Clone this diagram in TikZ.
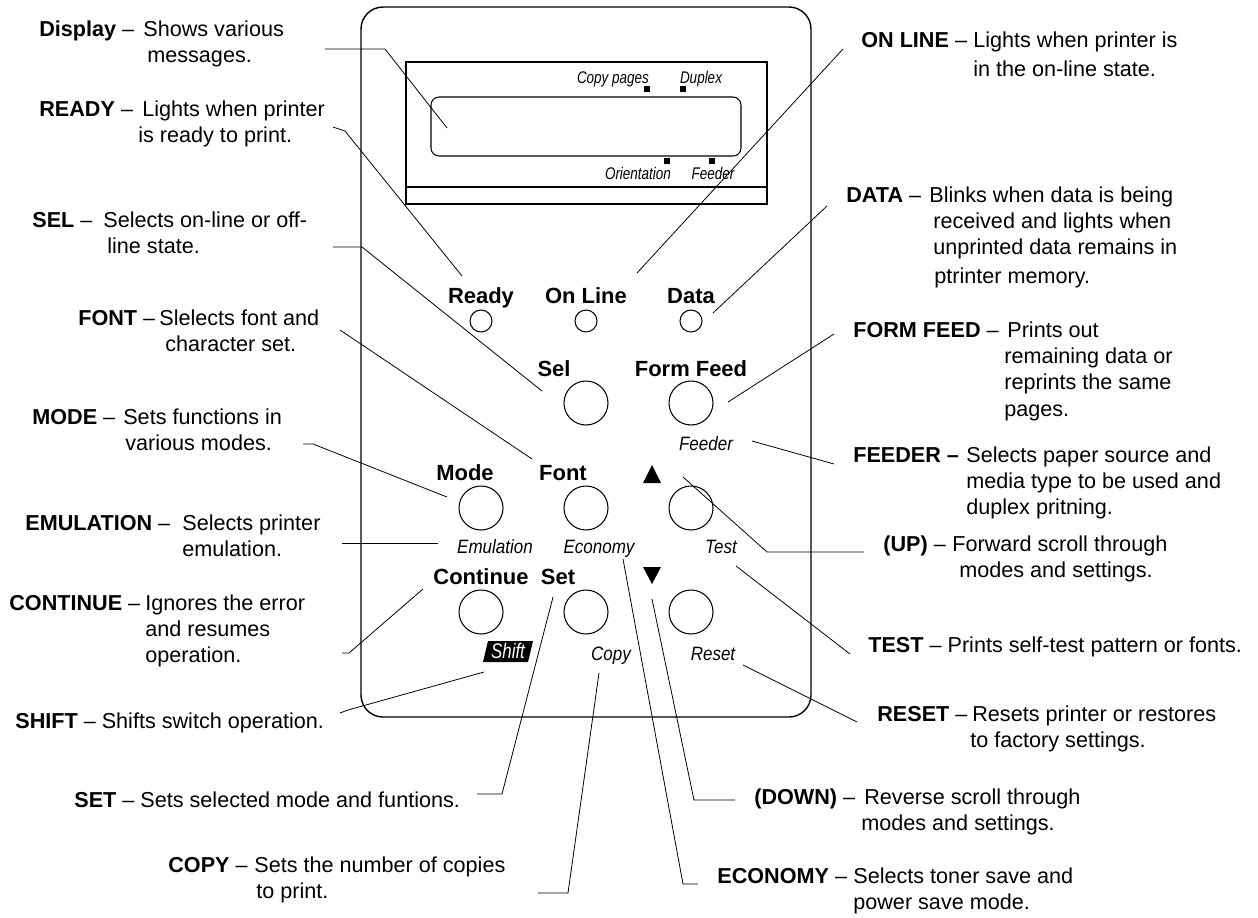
\documentclass[tikz,border=0pt]{standalone}
\usepackage{fontspec}
\setmainfont{Liberation Sans}
\newfontfamily\panelit[FakeStretch=0.88]{Liberation Sans}
\newfontfamily\dispit[FakeStretch=0.8]{Liberation Sans}
\newlength\pxu \setlength\pxu{0.02cm}
\tikzset{
  lbl/.style={anchor=base west, inner sep=0pt, font=\fontsize{12.3}{15}\selectfont},
  pbold/.style={anchor=base, inner sep=0pt, font=\fontsize{12.5}{15}\selectfont\bfseries},
  pit/.style={anchor=base, inner sep=0pt, font=\panelit\itshape\fontsize{11}{13}\selectfont},
  dit/.style={anchor=base, inner sep=0pt, font=\dispit\itshape\fontsize{9.6}{11}\selectfont},
  led/.style={circle, draw, line width=0.6pt, minimum size=0.44cm, inner sep=0pt},
  btn/.style={circle, draw, line width=0.6pt, minimum size=0.88cm, inner sep=0pt},
  leader/.style={line width=0.45pt},
  frame/.style={line width=0.8pt}
}
\begin{document}
\begin{tikzpicture}[x=0.02cm, y=-0.02cm]
\fill[white] (0,0) rectangle (1258,917);
\useasboundingbox (0,0) rectangle (1258,917);

% ---------------- panel ----------------
\draw[frame, rounded corners=0.44cm] (361,7) rectangle (811,717);
\draw[frame] (406,62) rectangle (767,204);
\draw[frame] (406,187) -- (767,187);
\draw[line width=0.6pt, rounded corners=0.16cm] (431,97) rectangle (741,156);
\fill (644,86) rectangle (650,92);
\fill (680,86) rectangle (686,92);
\fill (664,158) rectangle (670,164);
\fill (709,158) rectangle (715,164);
\node[dit] (tcopyp) at (613,83) {Copy pages};
\node[dit] (tduplex) at (701,83) {Duplex};
\node[dit] (torient) at (638,179) {Orientation};
\node[dit] (tfeedd) at (713,179) {Feeder};

% LEDs
\node[pbold] (tready) at (481,303) {Ready};
\node[pbold] (tonline) at (586,303) {On Line};
\node[pbold] (tdata) at (691,303) {Data};
\node[led] (ledready) at (481,321) {};
\node[led] (ledonline) at (586,321) {};
\node[led] (leddata) at (691,321) {};

% buttons row 1
\node[pbold] (tsel) at (554,376) {Sel};
\node[pbold] (tformfeed) at (691,376) {Form Feed};
\node[btn] (bsel) at (586,403) {};
\node[btn] (bformfeed) at (691,403) {};
\node[pit] (tfeeder) at (706,450) {Feeder};

% row 2
\node[pbold] (tmode) at (465,480) {Mode};
\node[pbold] (tfont) at (563,480) {Font};
\fill (652,465) -- (661,483) -- (643,483) -- cycle;
\node[btn] (bmode) at (481,508) {};
\node[btn] (bfont) at (586,508) {};
\node[btn] (bup) at (691,508) {};
\node[pit] (temul) at (495,553) {Emulation};
\node[pit] (tecon) at (599,553) {Economy};
\node[pit] (ttest) at (721,553) {Test};

% row 3
\node[pbold] (tcont) at (481,584) {Continue};
\node[pbold] (tset) at (558,584) {Set};
\fill (643,567) -- (661,567) -- (652,584) -- cycle;
\node[btn] (bcont) at (481,612) {};
\node[btn] (bset) at (586,612) {};
\node[btn] (bdown) at (691,612) {};
\fill (488,641) -- (533,641) -- (528,662) -- (483,662) -- cycle;
\node[dit, font=\dispit\itshape\fontsize{12}{14}\selectfont, text=white] (tshift) at (508,658) {Shift};
\node[pit] (tcopy) at (611,660) {Copy};
\node[pit] (treset) at (713,660) {Reset};

% ---------------- labels ----------------
\node[lbl] (ldisplay) at (39,36) {\begin{tabular}[t]{@{}l@{}l@{}}\makebox[104\pxu][l]{\textbf{Display} –}&Shows various\\&\hspace{4\pxu}messages.\end{tabular}};
\node[lbl] (lready) at (39,116) {\begin{tabular}[t]{@{}l@{}l@{}}\makebox[103\pxu][l]{\textbf{READY} –}&Lights when printer\\&\hspace{-4\pxu}is ready to print.\end{tabular}};
\node[lbl] (lsel) at (32,227) {\begin{tabular}[t]{@{}l@{}l@{}}\makebox[71\pxu][l]{\textbf{SEL} –}&Selects on-line or off-\\&\hspace{4\pxu}line state.\end{tabular}};
\node[lbl] (lfont) at (78,325) {\begin{tabular}[t]{@{}l@{}l@{}}\makebox[81\pxu][l]{\textbf{FONT} –}&Slelects font and\\&\hspace{6\pxu}character set.\end{tabular}};
\node[lbl] (lmode) at (32,424) {\begin{tabular}[t]{@{}l@{}l@{}}\makebox[91\pxu][l]{\textbf{MODE} –}&Sets functions in\\&\hspace{2\pxu}various modes.\end{tabular}};
\node[lbl] (lemul) at (25,530) {\begin{tabular}[t]{@{}l@{}l@{}}\makebox[157\pxu][l]{\textbf{EMULATION} –}&Selects printer\\&emulation.\end{tabular}};
\node[lbl] (lcont) at (9,610) {\begin{tabular}[t]{@{}l@{}l@{}}\makebox[136\pxu][l]{\textbf{CONTINUE} –}&Ignores the error\\&and resumes\\&operation.\end{tabular}};
\node[lbl] (lshift) at (15,728) {\textbf{SHIFT} – Shifts switch operation.};
\node[lbl] (lset) at (74,807) {\textbf{SET} – Sets selected mode and funtions.};
\node[lbl] (lcopy) at (168,872) {\begin{tabular}[t]{@{}l@{}l@{}}\makebox[86\pxu][l]{\textbf{COPY} –}&Sets the number of copies\\&\hspace{2\pxu}to print.\end{tabular}};

\node[lbl] (lonline) at (861,47) {\begin{tabular}[t]{@{}l@{}l@{}}\makebox[112\pxu][l]{\textbf{ON LINE} –}&Lights when printer is\\[1.7pt]&in the on-line state.\end{tabular}};
\node[lbl] (ldata) at (846,202) {\begin{tabular}[t]{@{}l@{}l@{}}\makebox[83\pxu][l]{\textbf{DATA} –}&Blinks when data is being\\&\hspace{4\pxu}received and lights when\\&\hspace{4\pxu}unprinted data remains in\\[1.5pt]&\hspace{5\pxu}ptrinter memory.\end{tabular}};
\node[lbl] (lformfeed) at (853,337) {\begin{tabular}[t]{@{}l@{}l@{}}\makebox[154\pxu][l]{\textbf{FORM FEED} –}&Prints out\\&\hspace{-3\pxu}remaining data or\\&\hspace{-3\pxu}reprints the same\\&\hspace{-3\pxu}pages.\end{tabular}};
\node[lbl] (lfeeder) at (853,462) {\begin{tabular}[t]{@{}l@{}l@{}}\makebox[113\pxu][l]{\textbf{FEEDER –}}&Selects paper source and\\&media type to be used and\\&duplex pritning.\end{tabular}};
\node[lbl] (lup) at (883,551) {\begin{tabular}[t]{@{}l@{}l@{}}\makebox[69\pxu][l]{\textbf{(UP)} –}&Forward scroll through\\&\hspace{7\pxu}modes and settings.\end{tabular}};
\node[lbl] (ltest) at (868,652) {\textbf{TEST} – Prints self-test pattern or fonts.};
\node[lbl] (lreset) at (877,721) {\begin{tabular}[t]{@{}l@{}l@{}}\makebox[95\pxu][l]{\textbf{RESET} –}&Resets printer or restores\\&\hspace{-2\pxu}to factory settings.\end{tabular}};
\node[lbl] (ldown) at (754,804) {\begin{tabular}[t]{@{}l@{}l@{}}\makebox[110\pxu][l]{\textbf{(DOWN)} –}&Reverse scroll through\\&\hspace{-3\pxu}modes and settings.\end{tabular}};
\node[lbl] (lecon) at (717,883) {\begin{tabular}[t]{@{}l@{}l@{}}\makebox[136\pxu][l]{\textbf{ECONOMY} –}&Selects toner save and\\&power save mode.\end{tabular}};

% ---------------- leader coordinates ----------------
\coordinate (cdisp1) at (325,49);  \coordinate (cdisp2) at (385,49);  \coordinate (cdisp3) at (447,128);
\coordinate (cready1) at (333,127); \coordinate (cready2) at (345,131); \coordinate (cready3) at (462,276);
\coordinate (csel1) at (333,247); \coordinate (csel2) at (362,247); \coordinate (csel3) at (542,391);
\coordinate (cfont1) at (340,330); \coordinate (cfont2) at (532,459);
\coordinate (cmode1) at (303,444); \coordinate (cmode2) at (313,444); \coordinate (cmode3) at (447,497);
\coordinate (cemul1) at (342,543); \coordinate (cemul2) at (438,543);
\coordinate (ccont1) at (342,653); \coordinate (ccont2) at (349,653); \coordinate (ccont3) at (423,589);
\coordinate (cshift1) at (340,713); \coordinate (cshift2) at (348,710); \coordinate (cshift3) at (484,672);
\coordinate (cset1) at (477,794); \coordinate (cset2) at (502,794); \coordinate (cset3) at (553,597);
\coordinate (ccopy1) at (538,893); \coordinate (ccopy2) at (568,893); \coordinate (ccopy3) at (599,673);
\coordinate (cecon1) at (623,559); \coordinate (cecon2) at (683,884); \coordinate (cecon3) at (698,884);
\coordinate (cdown1) at (652,599); \coordinate (cdown2) at (694,800); \coordinate (cdown3) at (735,800);
\coordinate (creset1) at (743,665); \coordinate (creset2) at (857,722);
\coordinate (ctest1) at (736,566); \coordinate (ctest2) at (850,654);
\coordinate (cup1) at (683,477); \coordinate (cup2) at (767,552); \coordinate (cup3) at (864,552);
\coordinate (cfeed1) at (752,441); \coordinate (cfeed2) at (834,464);
\coordinate (cff1) at (728,402); \coordinate (cff2) at (834,334);
\coordinate (cdata1) at (713,313); \coordinate (cdata2) at (827,206);
\coordinate (conl1) at (637,273); \coordinate (conl2) at (843,49);

\draw[leader] (cdisp1) -- (cdisp2) -- (cdisp3);
\draw[leader] (cready1) -- (cready2) -- (cready3);
\draw[leader] (csel1) -- (csel2) -- (csel3);
\draw[leader] (cfont1) -- (cfont2);
\draw[leader] (cmode1) -- (cmode2) -- (cmode3);
\draw[leader] (cemul1) -- (cemul2);
\draw[leader] (ccont1) -- (ccont2) -- (ccont3);
\draw[leader] (cshift1) -- (cshift2) -- (cshift3);
\draw[leader] (cset1) -- (cset2) -- (cset3);
\draw[leader] (ccopy1) -- (ccopy2) -- (ccopy3);
\draw[leader] (cecon1) -- (cecon2) -- (cecon3);
\draw[leader] (cdown1) -- (cdown2) -- (cdown3);
\draw[leader] (creset1) -- (creset2);
\draw[leader] (ctest1) -- (ctest2);
\draw[leader] (cup1) -- (cup2) -- (cup3);
\draw[leader] (cfeed1) -- (cfeed2);
\draw[leader] (cff1) -- (cff2);
\draw[leader] (cdata1) -- (cdata2);
\draw[leader] (conl1) -- (conl2);
\end{tikzpicture}
\end{document}
